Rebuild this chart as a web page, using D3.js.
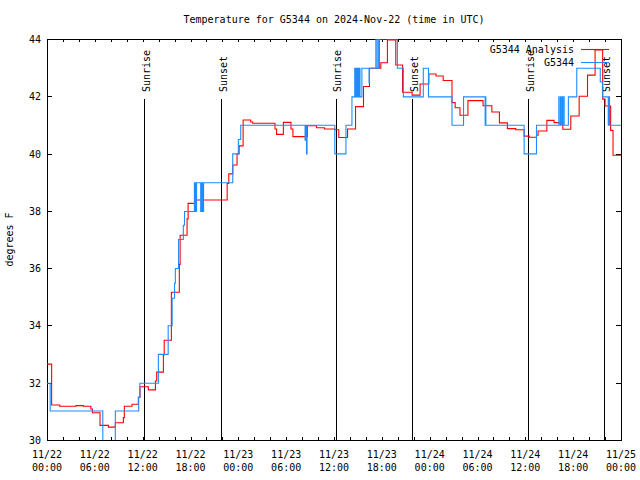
<!DOCTYPE html>
<html>
<head>
<meta charset="utf-8">
<script src="https://cdn.jsdelivr.net/npm/d3@7"></script>
<style>
  body { margin: 0; background: #fff; }
  svg { display: block; }
  text { font-family: "DejaVu Sans Mono", monospace; font-size: 10px; fill: #000; }
</style>
</head>
<body>
<svg id="chart" width="640" height="480"></svg>
<script>
// ---- data (hours after 2024-11-22 00:00 UTC, temperature in °F, step series) ----
const startDate = "2024-11-22T00:00:00Z";
const endDate = "2024-11-25T00:00:00Z";
const title = "Temperature for G5344 on 2024-Nov-22 (time in UTC)";
const yLabel = "degrees F";
const yTicks = [30, 32, 34, 36, 38, 40, 42, 44];
const xLabelHours = [0, 6, 12, 18, 24, 30, 36, 42, 48, 54, 60, 66, 72];

const analysisHours = [0, 0.58, 1.6, 3.64, 4.56, 5.5, 5.7, 6.65, 7.7, 8.57, 9.58, 9.7, 10.67, 11.46, 11.67, 12.71, 13.6, 13.76, 14.6, 14.7, 15.6, 16.6, 16.7, 17.57, 17.7, 18.57, 22.6, 22.8, 23.3, 23.84, 24.1, 24.6, 25.56, 25.8, 28.6, 28.8, 29.65, 30.6, 30.85, 32.66, 33.8, 34.8, 36.1, 36.6, 37.7, 38.7, 39.7, 40.45, 41.87, 42.7, 43.75, 44.6, 45.8, 46.8, 47.9, 48.8, 49.7, 50.8, 51.2, 51.8, 52.8, 54.7, 55.8, 56.75, 57.75, 58.8, 59.85, 60.5, 61.4, 61.6, 62.7, 63.6, 64.7, 65.7, 66.75, 67.8, 68.75, 69.7, 70.0, 70.7, 71.0, 72];
const analysisTemps = [32.65, 31.22, 31.18, 31.2, 31.18, 31.08, 30.95, 30.51, 30.45, 30.6, 30.78, 31.18, 31.25, 31.49, 31.86, 31.75, 32.06, 32.37, 32.97, 33.48, 35.16, 36.13, 37.15, 37.72, 38.26, 38.38, 38.96, 39.29, 39.6, 39.99, 40.27, 41.17, 41.1, 41.06, 40.86, 40.67, 41.09, 40.86, 40.59, 40.97, 40.9, 40.86, 40.83, 40.56, 40.86, 41.64, 42.34, 42.98, 43.17, 43.97, 43.09, 42.14, 42.04, 42.43, 42.78, 42.71, 42.55, 41.78, 41.6, 41.34, 41.85, 41.67, 41.45, 41.07, 40.87, 40.83, 40.61, 40.57, 40.64, 40.79, 41.16, 41.08, 40.85, 41.31, 42.0, 42.74, 43.62, 41.9, 41.66, 40.81, 39.94, 39.94];

const obsHours = [0, 0.4, 7.0, 8.57, 11.5, 11.65, 13.97, 15.2, 15.7, 16.0, 16.1, 16.5, 17.1, 17.25, 18.49, 18.52, 18.56, 18.6, 18.65, 18.72, 18.76, 19.28, 19.32, 19.45, 19.49, 19.6, 19.64, 23.3, 24.0, 24.3, 32.37, 32.45, 32.55, 32.62, 36.1, 37.5, 38.25, 38.6, 38.64, 38.72, 38.76, 38.85, 38.9, 38.98, 39.03, 39.1, 39.15, 39.22, 39.26, 39.5, 39.54, 40.4, 40.45, 41.25, 41.3, 41.5, 41.55, 41.7, 43.95, 44.7, 47.2, 47.85, 50.8, 52.25, 54.96, 55.0, 55.05, 59.85, 61.4, 64.2, 64.25, 64.42, 64.47, 64.62, 64.67, 64.82, 64.87, 65.4, 66.45, 69.4, 69.7, 70.4, 70.48, 70.56, 72];
const obsTemps = [31.98, 31.01, 29.5, 31.01, 31.49, 31.98, 32.99, 33.99, 34.95, 35.47, 35.99, 37.0, 37.5, 37.98, 38.98, 37.98, 38.98, 37.98, 38.98, 37.98, 38.98, 37.98, 38.98, 37.98, 38.98, 37.98, 38.98, 39.99, 40.49, 40.99, 40.47, 40.99, 39.99, 40.99, 39.99, 40.99, 41.98, 42.98, 41.98, 42.98, 41.98, 42.98, 41.98, 42.98, 41.98, 42.98, 41.98, 42.98, 41.98, 42.98, 42.98, 42.48, 42.98, 44.0, 42.98, 44.0, 42.98, 44.0, 42.98, 41.98, 42.98, 41.98, 40.99, 41.98, 40.99, 41.98, 40.99, 39.99, 40.99, 41.98, 40.99, 41.98, 40.99, 41.98, 40.99, 41.98, 40.99, 41.98, 42.98, 42.5, 41.98, 40.99, 41.98, 40.99, 40.99];

const sunEventHours = [12.2, 21.86, 36.25, 45.82, 60.34, 69.9];
const sunEventLabels = ["Sunrise", "Sunset", "Sunrise", "Sunset", "Sunrise", "Sunset"];

const seriesNames = ["G5344 Analysis", "G5344"];
const seriesColors = ["#ff0000", "#1e8cff"];

// ---- layout ----
const svg = d3.select("#chart");
const L = 47, R = 621, T = 39, B = 440;
const t0 = new Date(startDate);
const toDate = h => new Date(t0.getTime() + h * 3600e3);

const x = d3.scaleUtc().domain([new Date(startDate), new Date(endDate)]).range([L, R]);
const y = d3.scaleLinear().domain([30, 44]).range([B, T]);

svg.append("defs").append("clipPath").attr("id", "plotclip")
  .append("rect").attr("x", L).attr("y", T).attr("width", R - L).attr("height", B - T);

// title
svg.append("text").attr("x", (L + R) / 2).attr("y", 23).attr("text-anchor", "middle").text(title);

// y label
svg.append("text").attr("transform", `translate(13,${(T + B) / 2}) rotate(-90)`)
  .attr("text-anchor", "middle").text(yLabel);

// axes
const twoHours = d3.utcHour.every(2).range(new Date(startDate), new Date(new Date(endDate).getTime() + 1));
const axB = svg.append("g").attr("transform", `translate(0,${B})`)
  .call(d3.axisBottom(x).tickValues(twoHours).tickSizeInner(-3).tickSizeOuter(0).tickFormat(""));
const axT = svg.append("g").attr("transform", `translate(0,${T})`)
  .call(d3.axisTop(x).tickValues(twoHours).tickSizeInner(-3).tickSizeOuter(0).tickFormat(""));
const axLft = svg.append("g").attr("transform", `translate(${L},0)`)
  .call(d3.axisLeft(y).tickValues(yTicks).tickSizeInner(-5).tickSizeOuter(0).tickPadding(6).tickFormat(d3.format("d")));
const axRt = svg.append("g").attr("transform", `translate(${R},0)`)
  .call(d3.axisRight(y).tickValues(yTicks).tickSizeInner(-5).tickSizeOuter(0).tickFormat(""));
[axB, axT, axLft, axRt].forEach(g => {
  g.select(".domain").remove();
  g.selectAll("line").attr("stroke", "#000").attr("shape-rendering", "crispEdges");
  g.selectAll("text").style("font-family", "DejaVu Sans Mono, monospace").style("font-size", "10px").attr("fill", "#000");
});
axLft.selectAll("text").attr("dy", "0.35em");

// x tick labels (two lines)
const fmtDay = d3.utcFormat("%m/%d"), fmtTime = d3.utcFormat("%H:%M");
const xl = svg.append("g").selectAll("text").data(xLabelHours.map(toDate)).join("text")
  .attr("x", d => x(d)).attr("text-anchor", "middle");
xl.append("tspan").attr("x", d => x(d)).attr("y", 458).text(fmtDay);
xl.append("tspan").attr("x", d => x(d)).attr("y", 471).text(fmtTime);

// frame
svg.append("rect").attr("x", L).attr("y", T).attr("width", R - L).attr("height", B - T)
  .attr("fill", "none").attr("stroke", "#000").attr("shape-rendering", "crispEdges");

// sun events
const sun = svg.append("g");
sun.selectAll("line").data(sunEventHours).join("line")
  .attr("x1", h => Math.round(x(toDate(h))) + 0.5).attr("x2", h => Math.round(x(toDate(h))) + 0.5)
  .attr("y1", 99).attr("y2", B).attr("stroke", "#000").attr("stroke-width", 1);
sun.selectAll("text").data(sunEventHours).join("text")
  .attr("transform", h => `translate(${x(toDate(h)) + 5.5},92) rotate(-90)`)
  .attr("text-anchor", "start").text((h, i) => sunEventLabels[i]);

// series
const line = d3.line().curve(d3.curveStepAfter).x(d => x(d[0])).y(d => y(d[1]));
const series = [
  analysisHours.map((h, i) => [toDate(h), analysisTemps[i]]),
  obsHours.map((h, i) => [toDate(h), obsTemps[i]])
];
svg.append("g").attr("clip-path", "url(#plotclip)").selectAll("path").data(series).join("path")
  .attr("d", line).attr("fill", "none").attr("stroke", (d, i) => seriesColors[i])
  .attr("stroke-width", 1.1);

// legend
const lg = svg.append("g");
seriesNames.forEach((name, i) => {
  const yy = 49.5 + i * 13;
  lg.append("text").attr("x", 574).attr("y", yy).attr("dy", "0.35em").attr("text-anchor", "end").text(name);
  lg.append("line").attr("x1", 581).attr("x2", 609).attr("y1", yy).attr("y2", yy)
    .attr("stroke", seriesColors[i]).attr("stroke-width", 1.1);
});
</script>
</body>
</html>
